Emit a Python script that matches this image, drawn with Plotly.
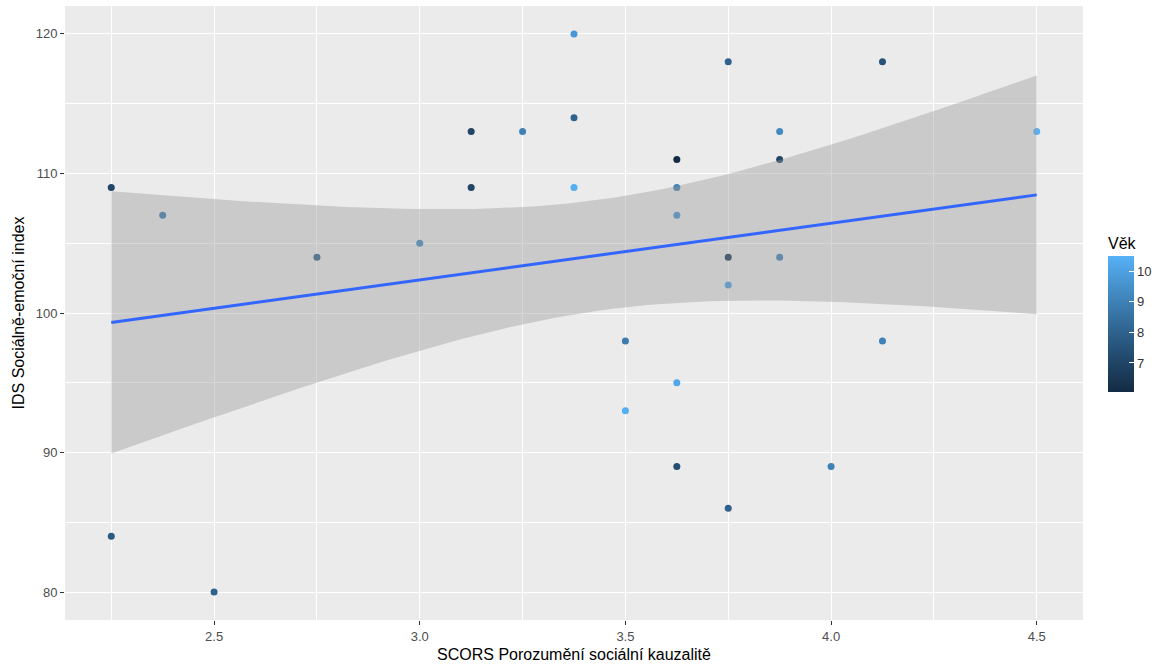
import numpy as np
import plotly.graph_objects as go

# SCORS (x), IDS (y), Věk (colour)
scors = [2.25, 2.25, 2.375, 2.5, 2.75, 3.0, 3.125, 3.125, 3.25, 3.375,
         3.375, 3.375, 3.5, 3.5, 3.625, 3.625, 3.625, 3.625, 3.625, 3.75,
         3.75, 3.75, 3.75, 3.875, 3.875, 3.875, 4.0, 4.125, 4.125, 4.5]
ids = [109, 84, 107, 80, 104, 105, 113, 109, 113, 120,
       114, 109, 98, 93, 111, 109, 107, 95, 89, 118,
       104, 102, 86, 113, 111, 104, 89, 118, 98, 113]
vek = [7.0, 7.7, 8.8, 8.0, 8.0, 9.3, 7.0, 7.0, 9.0, 9.7,
       8.0, 10.4, 8.8, 10.4, 6.05, 9.0, 9.5, 10.2, 7.3, 8.0,
       6.5, 10.0, 8.0, 9.3, 7.0, 9.0, 9.0, 7.5, 9.0, 10.5]

x_ticks = [2.5, 3.0, 3.5, 4.0, 4.5]
y_ticks = [80, 90, 100, 110, 120]
cb_ticks = [7, 8, 9, 10]

x = np.array(scors, float)
y = np.array(ids, float)
n = len(x)
b1, b0 = np.polyfit(x, y, 1)
xs = np.linspace(x.min(), x.max(), 80)
yhat = b0 + b1 * xs
resid = y - (b0 + b1 * x)
s = np.sqrt(np.sum(resid ** 2) / (n - 2))
sxx = np.sum((x - x.mean()) ** 2)
t = 2.0484  # t(0.975, df=28)
se = s * np.sqrt(1 / n + (xs - x.mean()) ** 2 / sxx)
lo = yhat - t * se
hi = yhat + t * se

scale = [[0, "#132B43"], [0.25, "#22496C"], [0.5, "#336A98"], [0.75, "#448DC6"], [1, "#56B1F7"]]

fig = go.Figure()
fig.add_trace(go.Scatter(
    x=scors, y=ids, mode="markers",
    marker=dict(size=7, color=vek, colorscale=scale, showscale=True,
                colorbar=dict(
                    title=dict(text="Věk", side="top", font=dict(size=16, color="black")),
                    x=1.0246, xanchor="left", xpad=0, y=0.500, yanchor="middle", ypad=0,
                    len=158, lenmode="pixels", thickness=26, outlinewidth=0,
                    tickvals=cb_ticks, ticks="inside", ticklen=5, tickcolor="white",
                    tickfont=dict(size=13, color="#333333"))),
    showlegend=False, hoverinfo="skip"))
fig.add_trace(go.Scatter(
    x=np.concatenate([xs, xs[::-1]]), y=np.concatenate([hi, lo[::-1]]),
    fill="toself", fillcolor="rgba(153,153,153,0.4)", line=dict(width=0),
    mode="lines", showlegend=False, hoverinfo="skip"))
fig.add_trace(go.Scatter(x=xs, y=yhat, mode="lines", line=dict(color="#3366FF", width=3),
                         showlegend=False, hoverinfo="skip"))

axis_common = dict(showgrid=True, gridcolor="white", gridwidth=1.1, zeroline=False,
                   ticks="outside", ticklen=4, tickcolor="#333333", tickwidth=1,
                   tickfont=dict(size=13, color="#4D4D4D"), showline=False, automargin=False)
fig.update_xaxes(range=[2.1375, 4.6125], tickvals=x_ticks, ticktext=[f"{v:.1f}" for v in x_ticks],
                 minor=dict(tickvals=[2.25, 2.75, 3.25, 3.75, 4.25], showgrid=True,
                            gridcolor="white", gridwidth=0.5),
                 title=dict(text="SCORS Porozumění sociální kauzalitě", font=dict(size=16, color="black"),
                            standoff=6), **axis_common)
fig.update_yaxes(range=[78, 122], tickvals=y_ticks,
                 minor=dict(tickvals=[85, 95, 105, 115], showgrid=True, gridcolor="white", gridwidth=0.5),
                 title=dict(text="IDS Sociálně-emoční index", font=dict(size=16, color="black"),
                            standoff=7), **axis_common)
fig.update_layout(width=1165, height=665, margin=dict(l=65, r=82, t=6, b=45),
                  plot_bgcolor="#EBEBEB", paper_bgcolor="white",
                  font=dict(family="Liberation Sans, Arial, sans-serif"))
fig.write_html("out.html")
